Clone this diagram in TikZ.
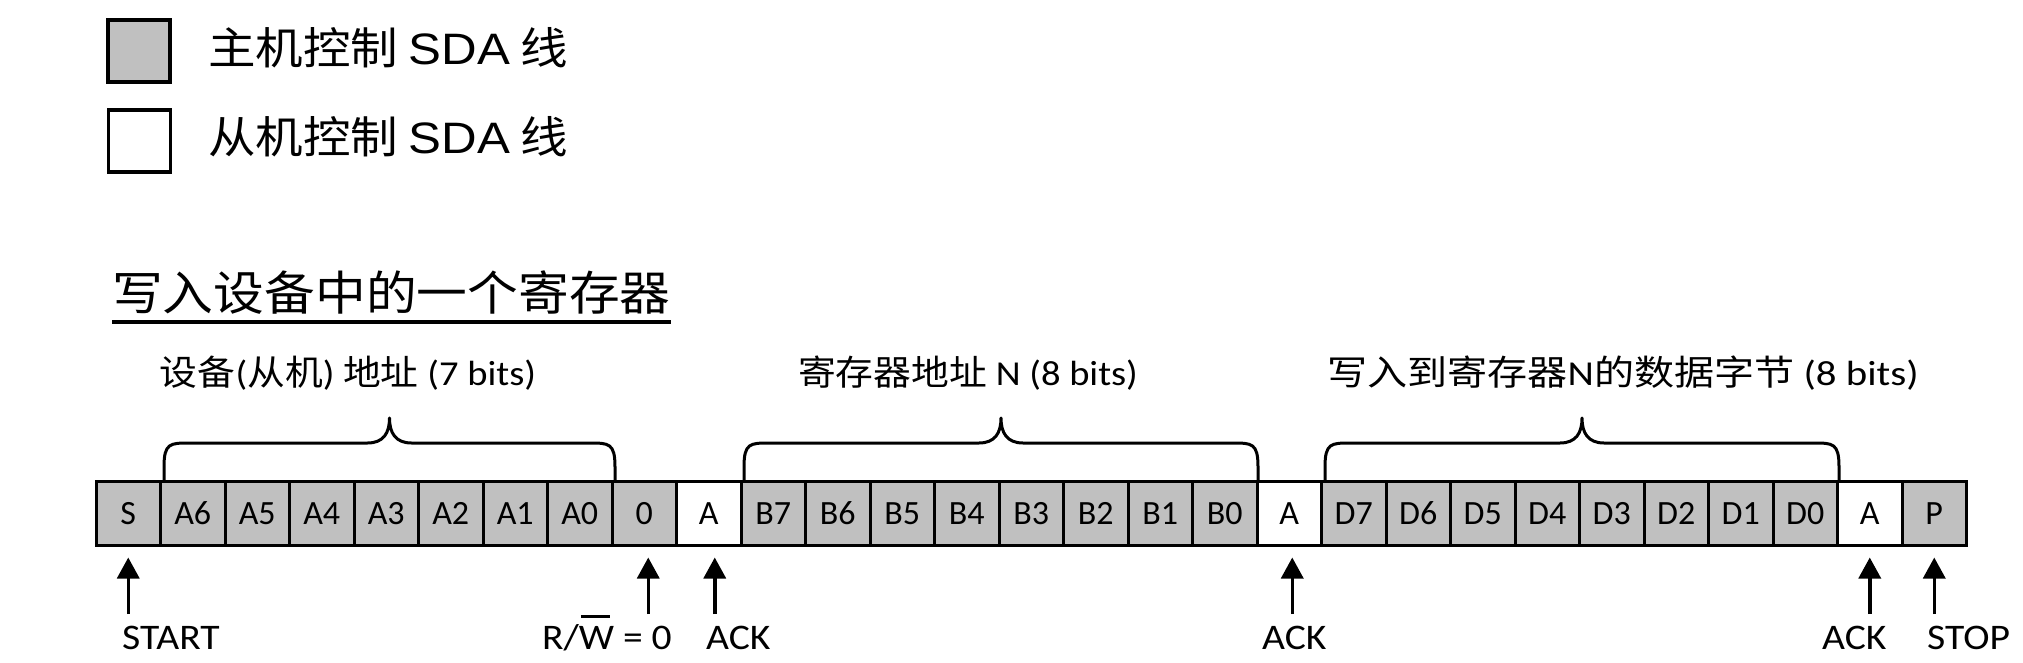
\documentclass[tikz,border=0pt]{standalone}
\usepackage{fontspec}
\setmainfont{Carlito}
\newfontfamily\cjkf{Noto Sans CJK SC}[FakeStretch=1.08]
\newfontfamily\calw{Carlito}[FakeStretch=1.1]
\newfontfamily\arialw{Liberation Sans}[FakeStretch=1.12]
\usetikzlibrary{arrows.meta}
\definecolor{mastergray}{RGB}{192,192,192}
\newcommand\bitbrace[2]{%
  \pgfmathsetmacro\bc{(#1+#2)/2}%
  \draw[bracestyle] (#1,481) -- (#1,467) .. controls (#1,443) and ({#1+6},443) .. ({#1+26},443)
    -- ({\bc-22},443) .. controls ({\bc-6},443) and (\bc,433) .. (\bc,418)
    .. controls (\bc,433) and ({\bc+6},443) .. ({\bc+22},443)
    -- ({#2-26},443) .. controls ({#2-6},443) and (#2,443) .. (#2,467) -- (#2,481);}
\begin{document}
\begin{tikzpicture}[x=1pt,y=-1pt,
  cell/.style={draw, line width=3pt, minimum width=64.5pt, minimum height=64pt, inner sep=0pt, outer sep=0pt, font=\fontsize{34}{40}\selectfont},
  legbox/.style={draw, line width=3.5pt, minimum width=62pt, minimum height=62pt, inner sep=0pt},
  legtext/.style={anchor=base west, inner sep=0pt, font=\fontsize{44}{50}\selectfont},
  bracelbl/.style={anchor=base, inner sep=0pt, font=\fontsize{35}{42}\selectfont\calw},
  bottomlbl/.style={inner sep=0pt, anchor=base west, font=\fontsize{36}{42}\selectfont\calw},
  bracestyle/.style={line width=3pt, line join=round},
  arr/.style={line width=3.5pt, -{Triangle[width=22pt,length=21pt]}, shorten >=12pt}
]
\useasboundingbox (0,0) rectangle (2023,663);
% legend
\node[legbox, fill=mastergray] (lg1) at (139,51) {};
\node[legbox, fill=white] (lg2) at (139.5,141) {};
\node[legtext] (lt1) at (208,65) {\cjkf 主机控制 {\arialw SDA} 线};
\node[legtext] (lt2) at (208,154) {\cjkf 从机控制 {\arialw SDA} 线};
% title
\node[anchor=base west, inner sep=0pt, font=\fontsize{47}{54}\selectfont\cjkf] (title) at (112,310) {写入设备中的一个寄存器};
\draw[line width=4pt] ([yshift=-12pt]title.base west) -- ([yshift=-12pt]title.base east);
% cells
\foreach \lab/\fc [count=\i from 0] in {S/mastergray, A6/mastergray, A5/mastergray, A4/mastergray, A3/mastergray, A2/mastergray, A1/mastergray, A0/mastergray, 0/mastergray, A/white,
  B7/mastergray, B6/mastergray, B5/mastergray, B4/mastergray, B3/mastergray, B2/mastergray, B1/mastergray, B0/mastergray, A/white,
  D7/mastergray, D6/mastergray, D5/mastergray, D4/mastergray, D3/mastergray, D2/mastergray, D1/mastergray, D0/mastergray, A/white, P/mastergray}
  \node[cell, fill=\fc] (c\i) at ({96+64.5*(\i+0.5)},513.5) {\lab};
% braces
\bitbrace{164}{615}
\bitbrace{744}{1258}
\bitbrace{1325}{1839}
\node[bracelbl] (bl1) at (348,385) {{\cjkf 设备}({\cjkf 从机}) {\cjkf 地址} (7 bits)};
\node[bracelbl] (bl2) at (968,385) {{\cjkf 寄存器地址} N (8 bits)};
\node[bracelbl] (bl3) at (1623,385) {\scalebox{1.06}[1]{{\cjkf 写入到寄存器}N{\cjkf 的数据字节} (8 bits)}};
% bottom labels
\node[bottomlbl] (lstart) at (122,649) {START};
\node[bottomlbl, anchor=base east] (lrw) at (672,649) {R/\rlap{\hspace{2pt}\rule[31pt]{29pt}{3.5pt}}W = 0};
\node[bottomlbl] (lack1) at (706,649) {ACK};
\node[bottomlbl] (lack2) at (1262,649) {ACK};
\node[bottomlbl] (lack3) at (1822,649) {ACK};
\node[bottomlbl] (lstop) at (1927,649) {STOP};
% arrows
\coordinate (tails) at (0,614);
\draw[arr] (c0.south |- tails) -- (c0.south);
\draw[arr] ([xshift=4pt]c8.south |- tails) -- ([xshift=4pt]c8.south);
\draw[arr] ([xshift=6pt]c9.south |- tails) -- ([xshift=6pt]c9.south);
\draw[arr] ([xshift=3pt]c18.south |- tails) -- ([xshift=3pt]c18.south);
\draw[arr] (c27.south |- tails) -- (c27.south);
\draw[arr] (c28.south |- tails) -- (c28.south);
\end{tikzpicture}
\end{document}
